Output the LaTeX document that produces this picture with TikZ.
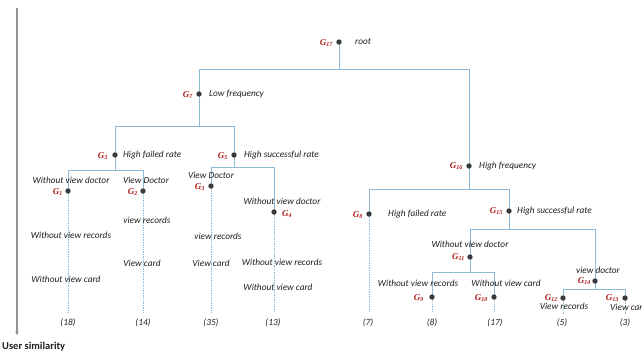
\documentclass[tikz,border=0pt]{standalone}
\usepackage{fontspec}
\setmainfont{Carlito}
\newfontfamily\gfont{Liberation Serif}
\usetikzlibrary{arrows.meta}
\definecolor{treeline}{HTML}{8DBAD6}
\definecolor{gred}{HTML}{B01818}
\definecolor{dotc}{HTML}{3A3A3A}
\definecolor{txt}{HTML}{1E1E1E}
\newcommand{\gl}[1]{{\gfont\bfseries\itshape G\textsubscript{#1}}}
\tikzset{
  branch/.style={draw=treeline, line width=1pt},
  leafline/.style={draw=treeline, line width=0.7pt, densely dotted},
  dotnode/.style={circle, fill=dotc, inner sep=0pt, minimum size=5.4pt},
  lbl/.style={font=\fontsize{9.3}{10}\selectfont\itshape, text=txt, inner sep=0pt},
  glbl/.style={font=\fontsize{9}{9}\selectfont, text=gred, inner sep=0pt},
  cnt/.style={font=\fontsize{9.3}{10}\selectfont\itshape, text=txt, inner sep=0pt},
}
\begin{document}
\begin{tikzpicture}[x=1pt,y=-1pt]
\useasboundingbox (0,0) rectangle (642,354);
% positions of dots
\coordinate (p17) at (339,42);
\coordinate (p7) at (199,94);
\coordinate (p16) at (469,166);
\coordinate (p3) at (115,155);
\coordinate (p5) at (234,155);
\coordinate (p1) at (68,191);
\coordinate (p2) at (143,191);
\coordinate (p6) at (211,186);
\coordinate (p4) at (274,212);
\coordinate (p8) at (369,214);
\coordinate (p15) at (509,211);
\coordinate (p11) at (470,257);
\coordinate (p9) at (432,297);
\coordinate (p10) at (494,297);
\coordinate (p14) at (595,281);
\coordinate (p12) at (563,298);
\coordinate (p13) at (625,298);
% bar levels
\coordinate (b17) at (339,69);
\coordinate (b7) at (199,126);
\coordinate (b3) at (115,170);
\coordinate (b5) at (234,167);
\coordinate (b16) at (469,189);
\coordinate (b15) at (509,229);
\coordinate (b11) at (470,272);
\coordinate (b14) at (595,289);
% leaf ends
\coordinate (e1) at (68,312);
\coordinate (e2) at (143,312);
\coordinate (e6) at (211,312);
\coordinate (e4) at (274,312);
\coordinate (e8) at (369,312);
\coordinate (e9) at (432,312);
\coordinate (e10) at (494,312);
\coordinate (e12) at (563,314);
\coordinate (e13) at (625,314);
% axis
\coordinate (ax0) at (17,8);
\coordinate (ax1) at (17,335);
\draw[draw=gray!85, line width=1.1pt, -{Stealth[length=3.5pt,width=3.5pt]}] (ax0) -- (ax1);
\node[font=\fontsize{10.5}{11}\selectfont\bfseries, text=txt, anchor=west, inner sep=0pt] (axl) at (2,347) {User similarity};
% branches
\foreach \p/\a/\b in {17/7/16, 7/3/5, 3/1/2, 5/6/4, 16/8/15, 15/11/14, 11/9/10, 14/12/13}{
  \draw[branch] (p\p) -- (b\p) -| (p\a);
  \draw[branch] (b\p) -| (p\b);
}
% leaf dotted lines
\foreach \a/\b in {p1/e1,p2/e2,p6/e6,p4/e4,p8/e8,p9/e9,p10/e10,p12/e12,p13/e13}
  \draw[leafline] (\a) -- (\b);
% dots
\foreach \n in {17,7,16,3,5,1,2,6,4,8,15,11,9,10,14,12,13}
  \node[dotnode] (g\n) at (p\n) {};
% G labels
\node[glbl, anchor=east] (l17) at (333,43) {\gl{17}};
\node[glbl, anchor=east] (l7) at (193,95) {\gl{7}};
\node[glbl, anchor=east] (l3) at (108,156) {\gl{3}};
\node[glbl, anchor=east] (l5) at (228,156) {\gl{5}};
\node[glbl, anchor=east] (l1) at (63,192) {\gl{1}};
\node[glbl, anchor=east] (l2) at (138,192) {\gl{2}};
\node[glbl, anchor=east] (l6) at (205,187) {\gl{3}};
\node[glbl, anchor=west] (l4) at (282,214) {\gl{4}};
\node[glbl, anchor=east] (l16) at (463,166) {\gl{16}};
\node[glbl, anchor=east] (l8) at (363,215) {\gl{8}};
\node[glbl, anchor=east] (l15) at (503,211) {\gl{15}};
\node[glbl, anchor=east] (l11) at (465,257) {\gl{11}};
\node[glbl, anchor=east] (l9) at (424,298) {\gl{9}};
\node[glbl, anchor=east] (l10) at (488,298) {\gl{10}};
\node[glbl, anchor=east] (l14) at (591,281) {\gl{14}};
\node[glbl, anchor=east] (l12) at (558,298) {\gl{12}};
\node[glbl, anchor=east] (l13) at (619,298) {\gl{13}};
% text labels
\node[lbl, anchor=west] (t17) at (355,42) {root};
\node[lbl, anchor=west] (t7) at (209,94) {Low frequency};
\node[lbl, anchor=west] (t3) at (123,155) {High failed rate};
\node[lbl, anchor=west] (t5) at (244,155) {High successful rate};
\node[lbl] (t1a) at (71,180) {Without view doctor};
\node[lbl] (t2a) at (146,180) {View Doctor};
\node[lbl] (t6a) at (211,175) {View Doctor};
\node[lbl] (t4a) at (282,201) {Without view doctor};
\node[lbl] (t2b) at (147,220) {view records};
\node[lbl] (t1b) at (71,235) {Without view records};
\node[lbl] (t6b) at (218,236) {view records};
\node[lbl] (t2c) at (142,263) {View card};
\node[lbl] (t6c) at (211,263) {View card};
\node[lbl] (t4b) at (282,262) {Without view records};
\node[lbl] (t1c) at (66,279) {Without view card};
\node[lbl] (t4c) at (278,287) {Without view card};
\node[lbl, anchor=west] (t16) at (479,166) {High frequency};
\node[lbl, anchor=west] (t8) at (388,214) {High failed rate};
\node[lbl, anchor=west] (t15) at (517,211) {High successful rate};
\node[lbl] (t11) at (470,244) {Without view doctor};
\node[lbl] (t9) at (418,283) {Without view records};
\node[lbl] (t10) at (506,283) {Without view card};
\node[lbl] (t14) at (598,270) {view doctor};
\node[lbl] (t12) at (564,306) {View records};
\node[lbl, anchor=west] (t13) at (610,307) {View car};
% counts
\node[cnt] (c1) at (68,323) {(18)};
\node[cnt] (c2) at (143,323) {(14)};
\node[cnt] (c6) at (211,323) {(35)};
\node[cnt] (c4) at (273,323) {(13)};
\node[cnt] (c8) at (368,323) {(7)};
\node[cnt] (c9) at (432,323) {(8)};
\node[cnt] (c10) at (495,323) {(17)};
\node[cnt] (c12) at (562,323) {(5)};
\node[cnt] (c13) at (625,323) {(3)};
\end{tikzpicture}
\end{document}
